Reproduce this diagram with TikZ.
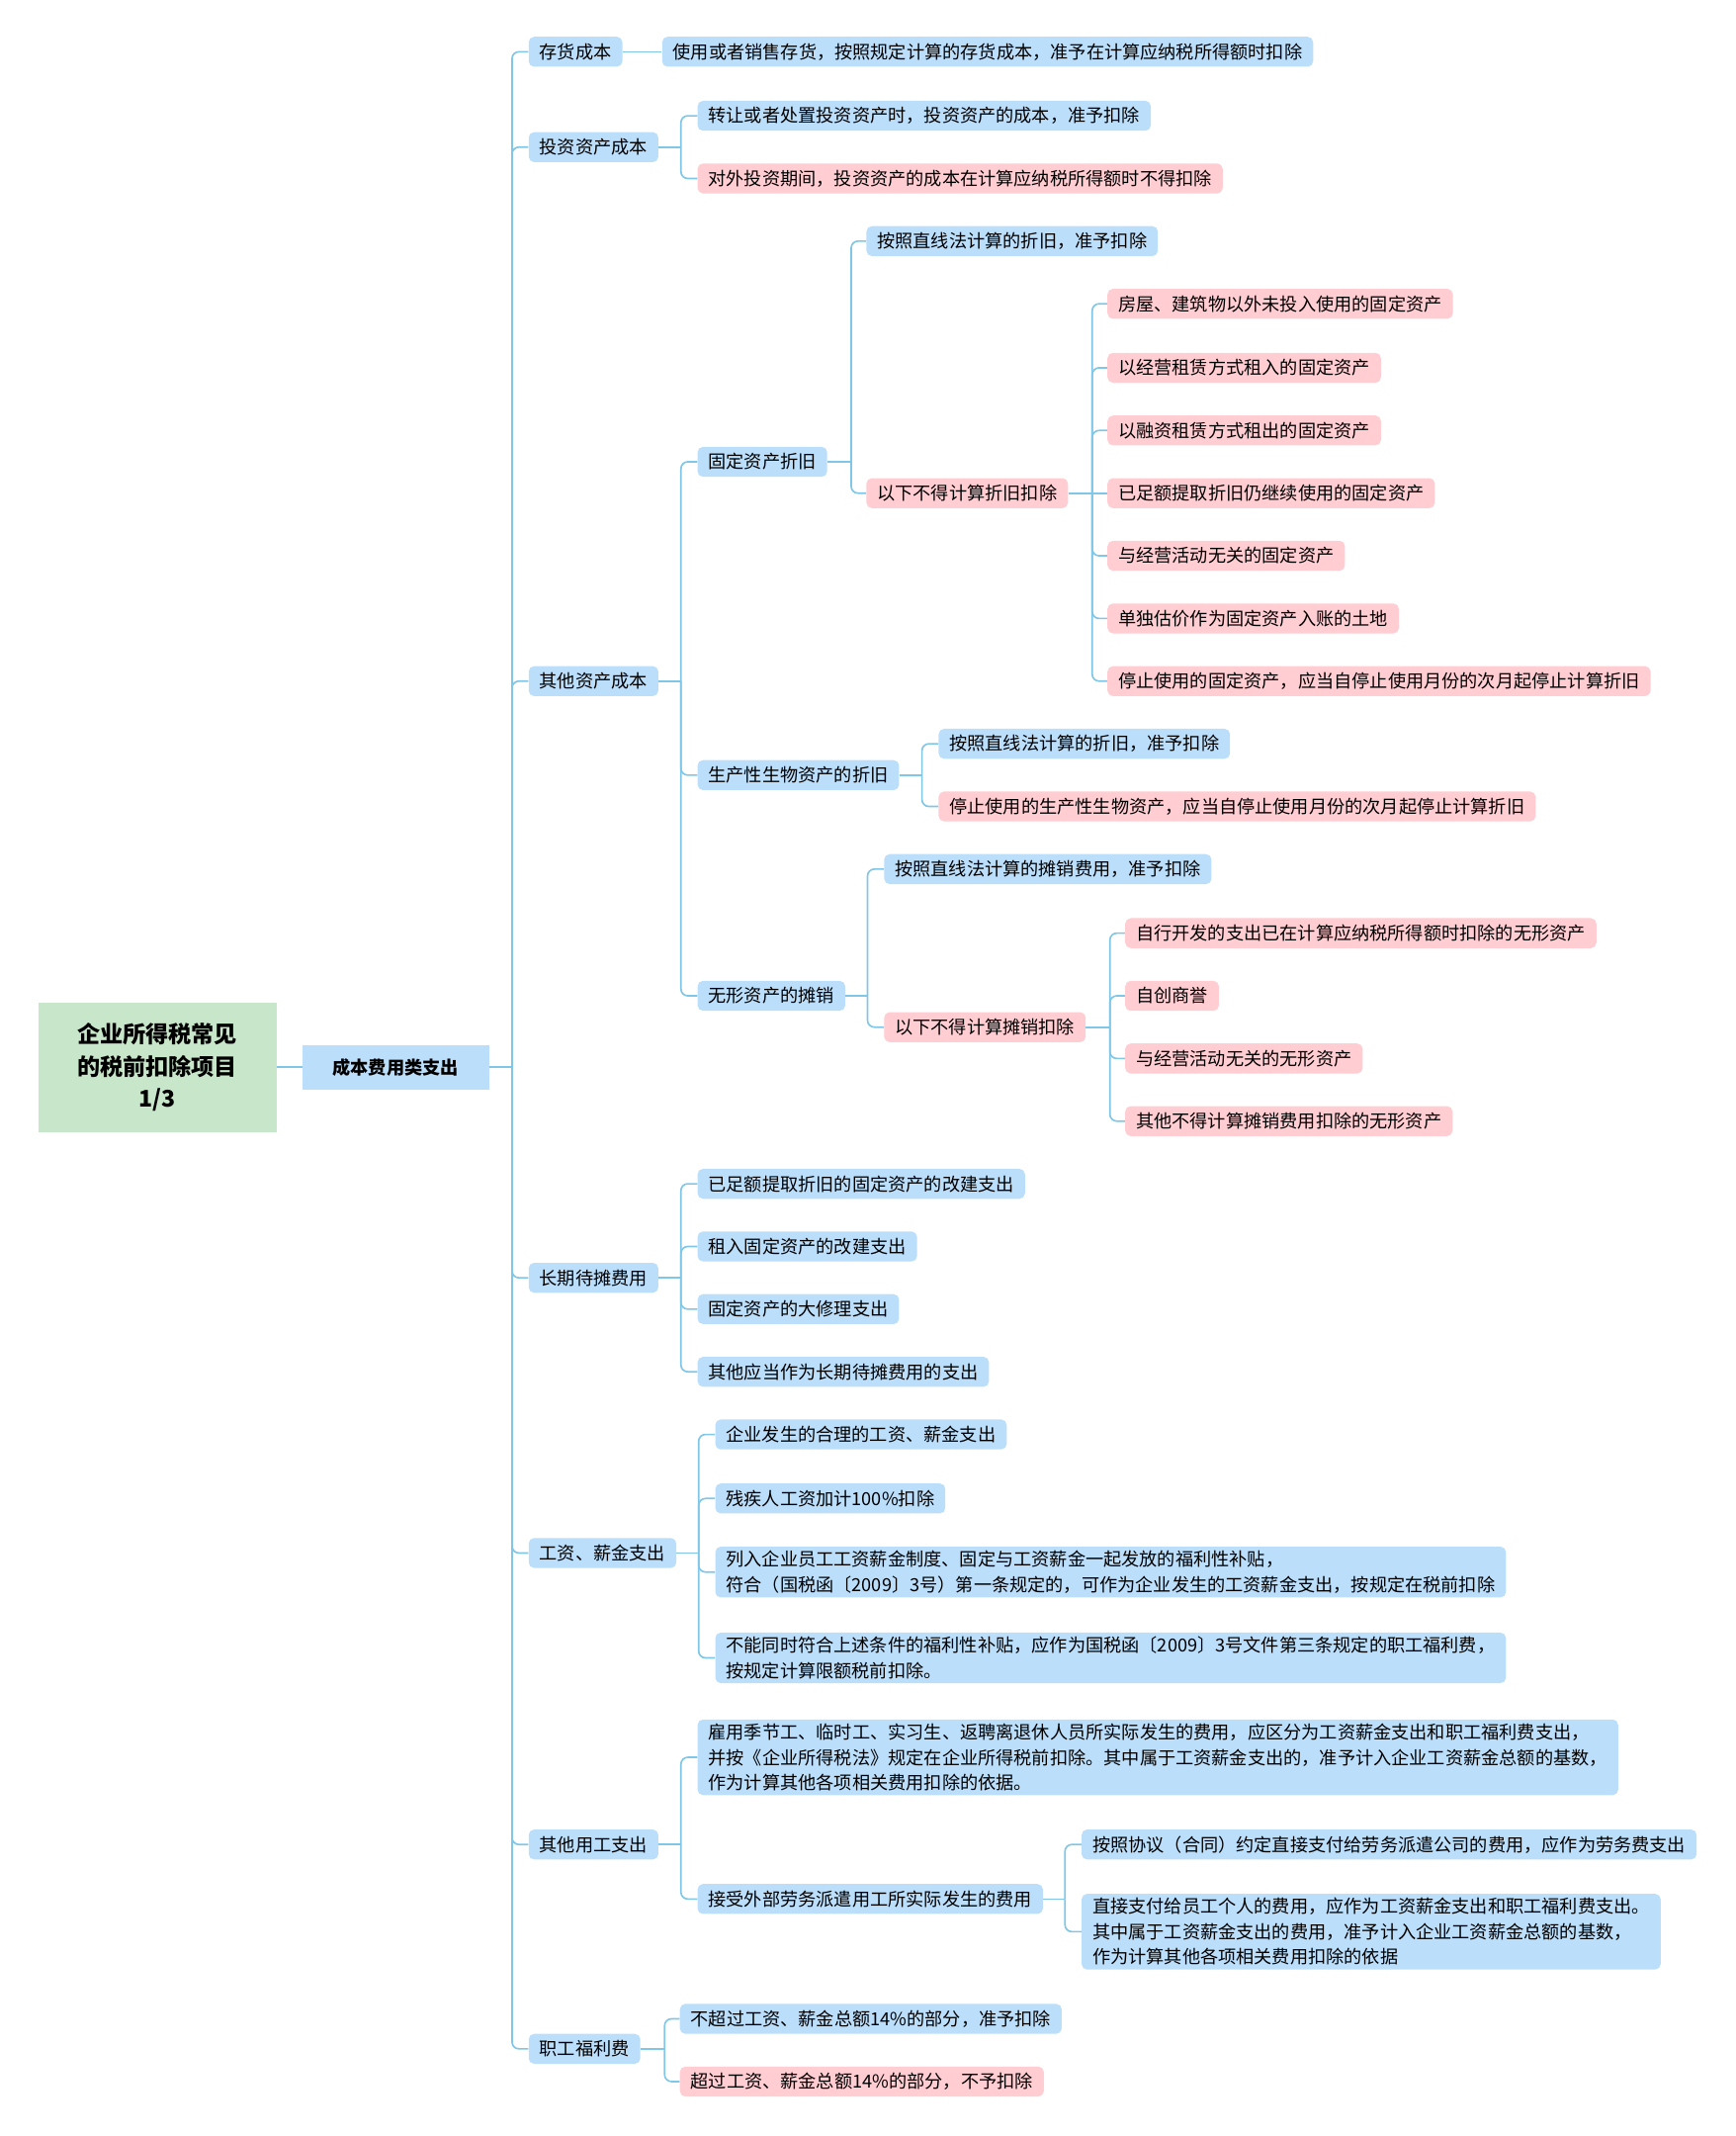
\documentclass[tikz,border=0pt]{standalone}
\usepackage{fontspec}
\setmainfont{Noto Sans CJK SC}
\definecolor{okblue}{HTML}{BBDEFB}
\definecolor{nopink}{HTML}{FFCDD2}
\definecolor{rootgreen}{HTML}{C8E6C9}
\definecolor{linkblue}{HTML}{80C6E6}
\tikzset{
  leaf/.style={fill=okblue, rounded corners=4pt, inner xsep=8pt, inner ysep=3pt,
    minimum height=22pt, anchor=west, align=left, font=\fontsize{13.2}{18.6}\selectfont},
  pinkleaf/.style={leaf, fill=nopink},
  rootbox/.style={fill=rootgreen, minimum width=175pt, minimum height=95pt, align=center,
    font=\fontsize{16.8}{23.5}\selectfont\bfseries},
  headbox/.style={fill=okblue, minimum width=137pt, minimum height=33pt,
    font=\fontsize{13.2}{16}\selectfont\bfseries},
  link/.style={draw=linkblue, line width=1.2pt},
}
% parent, x of the vertical line, children
\newcommand{\fork}[3]{%
  \coordinate (#1j) at (#2,0 |- #1.east);
  \draw[link] (#1.east) -- (#1j);
  \foreach \kid in {#3} \draw[link, rounded corners=5pt] (#1j) |- (\kid.west);
}

\begin{document}
\begin{tikzpicture}[x=1pt, y=-1pt]
\useasboundingbox (0,0) rectangle (1274,1568);

\node[rootbox] (root) at (115.5,783.5) {企业所得税常见\\的税前扣除项目\\1/3};
\node[headbox] (head) at (290.5,783.5) {成本费用类支出};

% second level
\node[leaf] (a1) at (388,38) {存货成本};
\node[leaf] (a2) at (388,108) {投资资产成本};
\node[leaf] (a3) at (388,500) {其他资产成本};
\node[leaf] (a4) at (388,938) {长期待摊费用};
\node[leaf] (a5) at (388,1140) {工资、薪金支出};
\node[leaf] (a6) at (388,1354) {其他用工支出};
\node[leaf] (a7) at (388,1504) {职工福利费};

% stock and investment
\node[leaf] (a1k) at (486,38) {使用或者销售存货，按照规定计算的存货成本，准予在计算应纳税所得额时扣除};
\node[leaf] (a2k1) at (512,85) {转让或者处置投资资产时，投资资产的成本，准予扣除};
\node[pinkleaf] (a2k2) at (512,131) {对外投资期间，投资资产的成本在计算应纳税所得额时不得扣除};

% other assets
\node[leaf] (c1) at (512,339) {固定资产折旧};
\node[leaf] (c2) at (512,569) {生产性生物资产的折旧};
\node[leaf] (c3) at (512,731) {无形资产的摊销};

\node[leaf] (c1k1) at (636,177) {按照直线法计算的折旧，准予扣除};
\node[pinkleaf] (d2) at (636,362) {以下不得计算折旧扣除};
\node[pinkleaf] (d2k1) at (813,223) {房屋、建筑物以外未投入使用的固定资产};
\node[pinkleaf] (d2k2) at (813,270) {以经营租赁方式租入的固定资产};
\node[pinkleaf] (d2k3) at (813,316) {以融资租赁方式租出的固定资产};
\node[pinkleaf] (d2k4) at (813,362) {已足额提取折旧仍继续使用的固定资产};
\node[pinkleaf] (d2k5) at (813,408) {与经营活动无关的固定资产};
\node[pinkleaf] (d2k6) at (813,454) {单独估价作为固定资产入账的土地};
\node[pinkleaf] (d2k7) at (813,500) {停止使用的固定资产，应当自停止使用月份的次月起停止计算折旧};

\node[leaf] (c2k1) at (689,546) {按照直线法计算的折旧，准予扣除};
\node[pinkleaf] (c2k2) at (689,592) {停止使用的生产性生物资产，应当自停止使用月份的次月起停止计算折旧};

\node[leaf] (c3k1) at (649,638) {按照直线法计算的摊销费用，准予扣除};
\node[pinkleaf] (e2) at (649,754) {以下不得计算摊销扣除};
\node[pinkleaf] (e2k1) at (826,685) {自行开发的支出已在计算应纳税所得额时扣除的无形资产};
\node[pinkleaf] (e2k2) at (826,731) {自创商誉};
\node[pinkleaf] (e2k3) at (826,777) {与经营活动无关的无形资产};
\node[pinkleaf] (e2k4) at (826,823) {其他不得计算摊销费用扣除的无形资产};

% long-term prepaid
\node[leaf] (a4k1) at (512,869) {已足额提取折旧的固定资产的改建支出};
\node[leaf] (a4k2) at (512,915) {租入固定资产的改建支出};
\node[leaf] (a4k3) at (512,961) {固定资产的大修理支出};
\node[leaf] (a4k4) at (512,1007) {其他应当作为长期待摊费用的支出};

% wages
\node[leaf] (a5k1) at (525,1053) {企业发生的合理的工资、薪金支出};
\node[leaf] (a5k2) at (525,1100) {残疾人工资加计100\%扣除};
\node[leaf] (a5k3) at (525,1154) {列入企业员工工资薪金制度、固定与工资薪金一起发放的福利性补贴，\\符合（国税函〔2009〕3号）第一条规定的，可作为企业发生的工资薪金支出，按规定在税前扣除};
\node[leaf] (a5k4) at (525,1217) {不能同时符合上述条件的福利性补贴，应作为国税函〔2009〕3号文件第三条规定的职工福利费，\\按规定计算限额税前扣除。};

% other labour
\node[leaf] (a6k1) at (512,1290) {雇用季节工、临时工、实习生、返聘离退休人员所实际发生的费用，应区分为工资薪金支出和职工福利费支出，\\并按《企业所得税法》规定在企业所得税前扣除。其中属于工资薪金支出的，准予计入企业工资薪金总额的基数，\\作为计算其他各项相关费用扣除的依据。};
\node[leaf] (f2) at (512,1394) {接受外部劳务派遣用工所实际发生的费用};
\node[leaf] (f2k1) at (794,1354) {按照协议（合同）约定直接支付给劳务派遣公司的费用，应作为劳务费支出};
\node[leaf] (f2k2) at (794,1418) {直接支付给员工个人的费用，应作为工资薪金支出和职工福利费支出。\\其中属于工资薪金支出的费用，准予计入企业工资薪金总额的基数，\\作为计算其他各项相关费用扣除的依据};

% welfare
\node[leaf] (a7k1) at (499,1482) {不超过工资、薪金总额14\%的部分，准予扣除};
\node[pinkleaf] (a7k2) at (499,1528) {超过工资、薪金总额14\%的部分，不予扣除};

% connectors
\draw[link] (root.east) -- (head.west);
\fork{head}{376}{a1,a2,a3,a4,a5,a6,a7}
\draw[link] (a1.east) -- (a1k.west);
\fork{a2}{500}{a2k1,a2k2}
\fork{a3}{500}{c1,c2,c3}
\fork{c1}{625}{c1k1,d2}
\fork{d2}{802}{d2k1,d2k2,d2k3,d2k5,d2k6,d2k7}
\draw[link] (d2.east) -- (d2k4.west);
\fork{c2}{677}{c2k1,c2k2}
\fork{c3}{637}{c3k1,e2}
\fork{e2}{815}{e2k1,e2k2,e2k3,e2k4}
\fork{a4}{500}{a4k1,a4k2,a4k3,a4k4}
\fork{a5}{513}{a5k1,a5k2,a5k3,a5k4}
\fork{a6}{500}{a6k1,f2}
\fork{f2}{782}{f2k1,f2k2}
\fork{a7}{488}{a7k1,a7k2}

\end{tikzpicture}
\end{document}
